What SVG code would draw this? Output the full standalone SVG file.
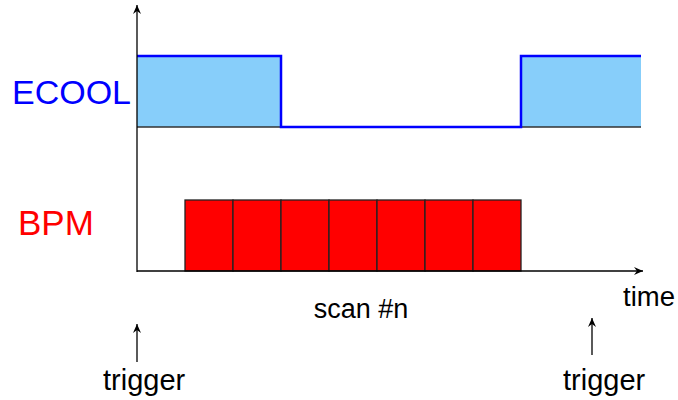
<svg xmlns="http://www.w3.org/2000/svg" width="678" height="400" viewBox="0 0 678 400">
<defs>
<marker id="ah" markerWidth="10" markerHeight="8" refX="9" refY="4" orient="auto" markerUnits="userSpaceOnUse">
<path d="M0,0 L9,4 L0,8 L3,4 Z" fill="#000"/>
</marker>
<style>
text{font-family:"Liberation Sans",Arial,sans-serif}
.ax{stroke:#000;stroke-width:1.3;fill:none}
.cell{fill:#ff0000;stroke:#222;stroke-width:1.3}
.lbl{font-size:29px;fill:#000}
</style>
</defs>
<g id="ecool">
<rect x="137" y="56" width="144" height="71" fill="#87cefa"/>
<rect x="521" y="56" width="120" height="71" fill="#87cefa"/>
<path d="M137,127 H281 M521,127 H641" stroke="#333" stroke-width="1.5"/>
<path d="M137,56 H281 V127 H521 V56 H641" stroke="#0000ff" stroke-width="2.5" fill="none"/>
<text x="12" y="104" font-size="34" fill="#0000ff">ECOOL</text>
</g>
<g id="bpm">
<rect class="cell" x="185" y="200" width="48" height="71"/>
<rect class="cell" x="233" y="200" width="48" height="71"/>
<rect class="cell" x="281" y="200" width="48" height="71"/>
<rect class="cell" x="329" y="200" width="48" height="71"/>
<rect class="cell" x="377" y="200" width="48" height="71"/>
<rect class="cell" x="425" y="200" width="48" height="71"/>
<rect class="cell" x="473" y="200" width="48" height="71"/>
<text x="18" y="235" font-size="35" fill="#ff0000">BPM</text>
</g>
<g id="connectors">
<line class="ax" x1="137" y1="272" x2="137" y2="5" marker-end="url(#ah)"/>
<line class="ax" x1="137" y1="271" x2="643" y2="271" marker-end="url(#ah)"/>
<line class="ax" x1="137" y1="362" x2="137" y2="324" marker-end="url(#ah)"/>
<line class="ax" x1="592" y1="355" x2="592" y2="318" marker-end="url(#ah)"/>
</g>
<g id="labels">
<text class="lbl" x="361" y="318" text-anchor="middle" style="font-size:27px">scan #n</text>
<text class="lbl" x="623" y="306" style="font-size:27.5px">time</text>
<text class="lbl" x="103" y="390">trigger</text>
<text class="lbl" x="563" y="390">trigger</text>
</g>
</svg>
